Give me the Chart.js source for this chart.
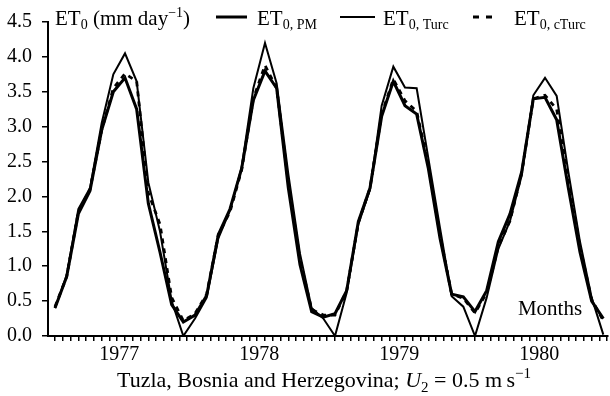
<!DOCTYPE html>
<html>
<head>
<meta charset="utf-8">
<script src="https://cdn.jsdelivr.net/npm/chart.js@4.4.0/dist/chart.umd.min.js"></script>
<style>
  html, body { margin: 0; padding: 0; background: #fff; }
  #wrap { width: 610px; height: 396px; }
</style>
</head>
<body>
<div id="wrap"><canvas id="chart" width="610" height="396"></canvas></div>
<script>
// month index, 0 = Jan 1977 ... 47 = Dec 1980
const monthIndex = [0, 1, 2, 3, 4, 5, 6, 7, 8, 9, 10, 11,
  12, 13, 14, 15, 16, 17, 18, 19, 20, 21, 22, 23,
  24, 25, 26, 27, 28, 29, 30, 31, 32, 33, 34, 35,
  36, 37, 38, 39, 40, 41, 42, 43, 44, 45, 46, 47];

const et0PM = [0.40, 0.85, 1.75, 2.08, 2.95, 3.50, 3.70, 3.25, 1.90, 1.20, 0.45, 0.20,
  0.30, 0.58, 1.45, 1.82, 2.40, 3.38, 3.80, 3.55, 2.12, 1.02, 0.35, 0.27,
  0.32, 0.65, 1.64, 2.12, 3.15, 3.65, 3.30, 3.18, 2.40, 1.40, 0.60, 0.56,
  0.35, 0.65, 1.35, 1.75, 2.35, 3.40, 3.42, 3.10, 2.12, 1.20, 0.50, 0.25];

const et0Turc = [0.40, 0.87, 1.82, 2.12, 3.05, 3.75, 4.05, 3.65, 2.20, 1.50, 0.50, 0.00,
  0.25, 0.55, 1.40, 1.80, 2.42, 3.55, 4.20, 3.62, 2.32, 1.18, 0.40, 0.25,
  0.00, 0.62, 1.60, 2.10, 3.30, 3.86, 3.56, 3.55, 2.55, 1.55, 0.57, 0.42,
  0.00, 0.55, 1.25, 1.65, 2.30, 3.45, 3.70, 3.44, 2.35, 1.35, 0.55, 0.02];

const et0cTurc = [0.42, 0.85, 1.78, 2.10, 2.95, 3.55, 3.76, 3.65, 2.05, 1.60, 0.55, 0.22,
  0.32, 0.60, 1.45, 1.78, 2.38, 3.40, 3.88, 3.55, 2.20, 1.10, 0.38, 0.30,
  0.30, 0.65, 1.62, 2.12, 3.18, 3.68, 3.37, 3.22, 2.45, 1.45, 0.60, 0.54,
  0.33, 0.62, 1.28, 1.65, 2.33, 3.40, 3.45, 3.25, 2.25, 1.28, 0.52, 0.22];

const yearLabels = ['1977', '1978', '1979', '1980'];
const yearCenters = [5.5, 17.5, 29.5, 41.5];

const SERIF = '"Liberation Serif", "Times New Roman", serif';
const X_MIN = -0.6, X_MAX = 47.4;

const points = ys => monthIndex.map((m, i) => ({ x: m, y: ys[i] }));

// minor tick marks along the time axis
const minorTicks = [];
for (let v = 0; v <= X_MAX; v += 2 / 3) minorTicks.push({ value: v });

function rich(ctx, parts, x, y) {
  let cx = x;
  parts.forEach(p => {
    ctx.font = (p.italic ? 'italic ' : '') + p.size + 'px ' + SERIF;
    ctx.fillText(p.t, cx, y + (p.dy || 0));
    cx += ctx.measureText(p.t).width;
  });
  return cx - x;
}

function richWidth(ctx, parts) {
  let w = 0;
  parts.forEach(p => {
    ctx.font = (p.italic ? 'italic ' : '') + p.size + 'px ' + SERIF;
    w += ctx.measureText(p.t).width;
  });
  return w;
}

const textPlugin = {
  id: 'texts',
  afterDraw(chart) {
    const ctx = chart.ctx;
    ctx.save();
    ctx.fillStyle = '#000';
    ctx.strokeStyle = '#000';
    ctx.textBaseline = 'alphabetic';
    ctx.textAlign = 'left';

    rich(ctx, [
      { t: 'ET', size: 21 }, { t: '0', size: 14, dy: 4 },
      { t: ' (mm day', size: 21 }, { t: '\u22121', size: 14, dy: -8 },
      { t: ')', size: 21 }
    ], 55, 25);

    // legend samples
    ctx.lineWidth = 3;
    ctx.beginPath(); ctx.moveTo(216, 17); ctx.lineTo(247, 17); ctx.stroke();
    rich(ctx, [{ t: 'ET', size: 21 }, { t: '0, PM', size: 14, dy: 4 }], 257, 25);

    ctx.lineWidth = 2;
    ctx.beginPath(); ctx.moveTo(340, 17); ctx.lineTo(375, 17); ctx.stroke();
    rich(ctx, [{ t: 'ET', size: 21 }, { t: '0, Turc', size: 14, dy: 4 }], 383, 25);

    ctx.lineWidth = 3;
    ctx.setLineDash([6, 7]);
    ctx.beginPath(); ctx.moveTo(473, 17); ctx.lineTo(495, 17); ctx.stroke();
    ctx.setLineDash([]);
    rich(ctx, [{ t: 'ET', size: 21 }, { t: '0, cTurc', size: 14, dy: 4 }], 514, 25);

    ctx.font = '21px ' + SERIF;
    ctx.textAlign = 'center';
    ctx.fillText('Months', 550, 315);

    // caption under the axis
    ctx.textAlign = 'left';
    const cap = [
      { t: 'Tuzla, Bosnia and Herzegovina; ', size: 22 },
      { t: 'U', size: 22, italic: true }, { t: '2', size: 15, dy: 5 },
      { t: ' = 0.5 m\u2009s', size: 22 }, { t: '\u22121', size: 15, dy: -9 }
    ];
    const w = richWidth(ctx, cap);
    rich(ctx, cap, 324 - w / 2, 387);
    ctx.restore();
  }
};

new Chart(document.getElementById('chart'), {
  type: 'line',
  data: {
    datasets: [
      { label: 'ET0, PM', data: points(et0PM), borderColor: '#000', borderWidth: 3, pointRadius: 0, tension: 0 },
      { label: 'ET0, Turc', data: points(et0Turc), borderColor: '#000', borderWidth: 2, pointRadius: 0, tension: 0 },
      { label: 'ET0, cTurc', data: points(et0cTurc), borderColor: '#000', borderWidth: 2.8, borderDash: [5, 5], pointRadius: 0, tension: 0 }
    ]
  },
  options: {
    responsive: false,
    animation: false,
    layout: { padding: { top: 19, right: 2, left: 0, bottom: 0 } },
    plugins: { legend: { display: false }, tooltip: { enabled: false } },
    scales: {
      x: {
        type: 'linear', position: 'bottom', weight: 0, min: X_MIN, max: X_MAX,
        grid: { drawOnChartArea: false, drawTicks: true, tickLength: 5, color: '#000', lineWidth: 1.5 },
        border: { color: '#000', width: 2 },
        ticks: { display: false },
        afterBuildTicks: s => { s.ticks = minorTicks.slice(); },
        afterFit: s => { s.height = 6; }
      },
      year: {
        type: 'linear', position: 'bottom', weight: 1, min: X_MIN, max: X_MAX,
        grid: { display: false, drawTicks: false },
        border: { display: false },
        ticks: {
          color: '#000', font: { family: SERIF, size: 20 }, padding: 1,
          autoSkip: false, maxRotation: 0,
          callback: v => yearLabels[yearCenters.indexOf(v)]
        },
        afterBuildTicks: s => { s.ticks = yearCenters.map(v => ({ value: v })); },
        afterFit: s => { s.height = 54; }
      },
      y: {
        min: 0, max: 4.5,
        grid: { drawOnChartArea: false, tickLength: 6, color: '#000', lineWidth: 1.5 },
        border: { color: '#000', width: 2 },
        ticks: {
          stepSize: 0.5, color: '#000', padding: 10,
          font: { family: SERIF, size: 20 },
          callback: v => v.toFixed(1)
        },
        afterFit: s => { s.width = 48; }
      }
    }
  },
  plugins: [textPlugin]
});
</script>
</body>
</html>
